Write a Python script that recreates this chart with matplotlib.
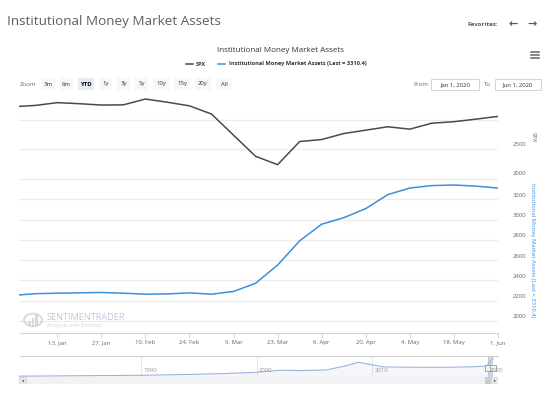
import matplotlib
matplotlib.use("Agg")
import matplotlib.pyplot as plt
import matplotlib.dates as mdates
import matplotlib.patches as mpatches
import numpy as np

plt.rcParams['font.family'] = ['Open Sans', 'DejaVu Sans']

# ---------------- data ----------------
dates = ['2019-12-30', '2020-01-06', '2020-01-13', '2020-01-20', '2020-01-27', '2020-02-03',
         '2020-02-10', '2020-02-17', '2020-02-24', '2020-03-02', '2020-03-09', '2020-03-16',
         '2020-03-23', '2020-03-30', '2020-04-06', '2020-04-13', '2020-04-20', '2020-04-27',
         '2020-05-04', '2020-05-11', '2020-05-18', '2020-05-25', '2020-06-01']
spx = [3224, 3245, 3293, 3275, 3252, 3255, 3355, 3300, 3238, 3097, 2734, 2372,
       2229, 2626, 2660, 2763, 2821, 2879, 2838, 2941, 2966, 3010, 3057]
mma = [2251, 2268, 2273, 2276, 2280, 2273, 2263, 2266, 2276, 2263, 2290, 2371,
       2551, 2790, 2954, 3018, 3108, 3246, 3311, 3335, 3341, 3330, 3310.4]

xtick_dates = ['2020-01-13', '2020-01-27', '2020-02-10', '2020-02-24', '2020-03-09', '2020-03-23',
               '2020-04-06', '2020-04-20', '2020-05-04', '2020-05-18', '2020-06-01']
xtick_labels = ['13. Jan', '27. Jan', '10. Feb', '24. Feb', '9. Mar', '23. Mar',
                '6. Apr', '20. Apr', '4. May', '18. May', '1. Jun']
spx_ticks = [2000, 2500, 3000]
spx_labels = ['2000', '2500', '']
mma_ticks = [2000, 2200, 2400, 2600, 2800, 3000, 3200, 3400]
mma_labels = ['2000', '2200', '2400', '2600', '2800', '3000', '3200', '']

nav_years = [1979.5, 1983, 1986, 1990, 1994, 1997, 2000, 2002, 2004, 2006, 2007.5,
             2008.8, 2009.5, 2011, 2013, 2015, 2017, 2019, 2019.9, 2020.2, 2020.42]
nav_vals = [150, 200, 250, 300, 450, 600, 840, 1200, 1150, 1250, 1900,
            2630, 2350, 1800, 1750, 1730, 1750, 1850, 2000, 2800, 3310]
nav_tick_years = [1990, 2000, 2010, 2020]

zoom_buttons = ['3m', '6m', 'YTD', '1y', '3y', '5y', '10y', '15y', '20y', 'All']

# ---------------- helpers ----------------
W, H = 558, 395
fig = plt.figure(figsize=(W / 100, H / 100), dpi=100)


def box(x0, y0, x1, y1):
    return [x0 / W, 1 - y1 / H, (x1 - x0) / W, (y1 - y0) / H]


def ftext(x, y, s, **kw):
    return fig.text(x / W, 1 - y / H, s, **kw)


def pt(px):
    return px * 0.72


d = mdates.datestr2num(dates)
xt = mdates.datestr2num(xtick_dates)
xlim = (mdates.datestr2num('2020-01-01'), mdates.datestr2num('2020-06-01'))

GRID = '#ececec'
LABEL = '#666666'
BLUE = '#3b8fdb'
GRAYLINE = '#4a4a4a'
FS = 4.3

# ---------------- top pane (SPX) ----------------
ax1 = fig.add_axes(box(19.5, 90, 498, 178))
ax1.plot(d, spx, color=GRAYLINE, lw=1.1, solid_joinstyle='round')
ax1.set_xlim(xlim)
ax1.set_ylim(2000, 3510)
ax2 = fig.add_axes(box(19.5, 178, 498, 333))
ax2.plot(d, mma, color=BLUE, lw=1.1, solid_joinstyle='round')
ax2.set_xlim(xlim)
ax2.set_ylim(1880, 3410)

for ax, ticks, labels in ((ax1, spx_ticks, spx_labels), (ax2, mma_ticks, mma_labels)):
    for s in ax.spines.values():
        s.set_visible(False)
    ax.set_xticks([])
    ax.set_yticks([])
    ax.patch.set_alpha(0)
    for t, lab in zip(ticks, labels):
        ax.axhline(t, color=GRID, lw=0.8, zorder=0)
        if lab:
            ax.annotate(lab, xy=(1, t), xycoords=('axes fraction', 'data'),
                        xytext=(pt(14.5), pt(4)), textcoords='offset points',
                        ha='left', va='center', fontsize=FS, color=LABEL)

# x axis on bottom pane
ax2.spines['bottom'].set_visible(True)
ax2.spines['bottom'].set_color('#ccd6eb')
ax2.spines['bottom'].set_linewidth(0.8)
ax2.set_xticks(xt)
ax2.set_xticklabels(xtick_labels, fontsize=FS, color=LABEL)
ax2.tick_params(axis='x', length=3.5, width=0.7, color='#ccd6eb', pad=1.5)

# axis titles
ftext(533, 137, 'SPX', rotation=-90, ha='center', va='center', fontsize=FS, color=LABEL)
ftext(533, 250, 'Institutional Money Market Assets (Last = 3310.4)', rotation=-90,
      ha='center', va='center', fontsize=4.2, color=BLUE)

# watermark
ftext(47, 318, 'SENTIMENTRADER', fontsize=6.6, color='#adc0d3', ha='left', va='center', alpha=0.85)
ftext(47, 326, 'Analysis over Emotion', fontsize=3.9, color='#c2cdd8', ha='left', va='center',
      alpha=0.85)
fig.patches.append(mpatches.Circle((33 / W, 1 - 320 / H), 9 / W, transform=fig.transFigure,
                                   fill=False, ec='#c9d3dc', lw=1.4, alpha=0.8))
for i, hh in enumerate([5, 8, 11]):
    fig.patches.append(mpatches.Rectangle(((28 + i * 3.5) / W, 1 - 326 / H), 2.5 / W, hh / H,
                                          transform=fig.transFigure, fc='#c9d3dc', ec='none',
                                          alpha=0.8))

# ---------------- header ----------------
ftext(7, 21, 'Institutional Money Market Assets', fontsize=9.7, color='#606060',
      ha='left', va='center')
ftext(468, 25, 'Favorites:', fontsize=4.5, color='#555555', ha='left', va='center',
      fontweight='bold')
ftext(513, 24, '\u2190', fontsize=8, color='#555555', ha='center', va='center',
      fontweight='bold', family='DejaVu Sans')
ftext(532, 24, '\u2192', fontsize=8, color='#555555', ha='center', va='center',
      fontweight='bold', family='DejaVu Sans')

ftext(280, 51, 'Institutional Money Market Assets', fontsize=5.8, color='#333333',
      ha='center', va='center')
# legend
fig.lines.append(plt.Line2D([186 / W, 193 / W], [1 - 64 / H] * 2, transform=fig.transFigure,
                            color=GRAYLINE, lw=1.1))
ftext(196, 64, 'SPX', fontsize=4.1, color='#333333', ha='left', va='center', fontweight='bold')
fig.lines.append(plt.Line2D([218 / W, 225 / W], [1 - 64 / H] * 2, transform=fig.transFigure,
                            color=BLUE, lw=1.1))
ftext(229, 64, 'Institutional Money Market Assets (Last = 3310.4)', fontsize=4.1,
      color='#333333', ha='left', va='center', fontweight='bold')

# hamburger
for yy in (52, 55, 58):
    fig.lines.append(plt.Line2D([531 / W, 539 / W], [1 - yy / H] * 2,
                                transform=fig.transFigure, color='#666666', lw=1.1))

# zoom row
ftext(20, 84, 'Zoom', fontsize=FS, color='#666666', ha='left', va='center')
bx = 42
for lab in zoom_buttons:
    w = 16 if len(lab) == 3 else 13
    sel = lab == 'YTD'
    fig.patches.append(mpatches.Rectangle((bx / W, 1 - 90 / H), w / W, 12 / H,
                                          transform=fig.transFigure,
                                          fc='#e6ebf5' if sel else '#f7f7f7', ec='none'))
    ftext(bx + w / 2, 84, lab, fontsize=FS, color='#000000' if sel else '#333333',
          ha='center', va='center', fontweight='bold' if sel else 'normal')
    bx += w + 5

ftext(413, 84, 'From', fontsize=FS, color='#666666', ha='left', va='center')
ftext(484, 84, 'To', fontsize=FS, color='#666666', ha='left', va='center')
for x0, x1, s in ((431, 479, 'Jan 1, 2020'), (495, 541, 'Jun 1, 2020')):
    fig.patches.append(mpatches.Rectangle((x0 / W, 1 - 90 / H), (x1 - x0) / W, 11 / H,
                                          transform=fig.transFigure, fc='white',
                                          ec='#cccccc', lw=0.6))
    ftext((x0 + x1) / 2, 84.5, s, fontsize=FS, color='#333333', ha='center', va='center')

# ---------------- navigator ----------------
axn = fig.add_axes(box(19.5, 356, 498, 377))
axn.fill_between(nav_years, nav_vals, 0, color='#335cad', alpha=0.05, lw=0)
axn.plot(nav_years, nav_vals, color='#9db3dc', lw=0.8)
axn.set_xlim(1979.5, 2020.86)
axn.set_ylim(0, 3750)
axn.set_xticks([])
axn.set_yticks([])
for s in axn.spines.values():
    s.set_visible(False)
axn.spines['top'].set_visible(True)
axn.spines['top'].set_color('#cccccc')
axn.spines['top'].set_linewidth(0.7)
for yv in nav_tick_years:
    axn.axvline(yv, color='#e6e6e6', lw=0.7, zorder=0)
    axn.annotate(str(yv), xy=(yv, 0), xycoords=('data', 'axes fraction'),
                 xytext=(pt(2), pt(4)), textcoords='offset points',
                 fontsize=FS, color='#999999', ha='left', va='bottom')
# selected range mask + handles
axn.axvspan(2020.0, 2020.42, color='#6685c2', alpha=0.3, lw=0)
for hx in (2020.0, 2020.42):
    axn.plot([hx], [0.45], marker='s', ms=4.5, mfc='#f2f2f2', mec='#999999', mew=0.6,
             transform=axn.get_xaxis_transform(), clip_on=False)

# scrollbar
axs = fig.add_axes(box(19.5, 377, 498, 384))
axs.set_xlim(0, 1)
axs.set_ylim(0, 1)
axs.axis('off')
axs.add_patch(mpatches.Rectangle((0, 0), 1, 1, fc='#f2f2f2', ec='none'))
axs.add_patch(mpatches.Rectangle((0, 0), 0.014, 1, fc='#e6e6e6', ec='#cccccc', lw=0.4))
axs.add_patch(mpatches.Rectangle((0.986, 0), 0.014, 1, fc='#e6e6e6', ec='#cccccc', lw=0.4))
axs.add_patch(mpatches.Rectangle((0.972, 0), 0.014, 1, fc='#cccccc', ec='none'))
axs.text(0.007, 0.5, '\u25c2', fontsize=3, ha='center', va='center', color='#333333',
         family='DejaVu Sans')
axs.text(0.993, 0.5, '\u25b8', fontsize=3, ha='center', va='center', color='#333333',
         family='DejaVu Sans')

fig.savefig('out.png', dpi=100, facecolor='white')
